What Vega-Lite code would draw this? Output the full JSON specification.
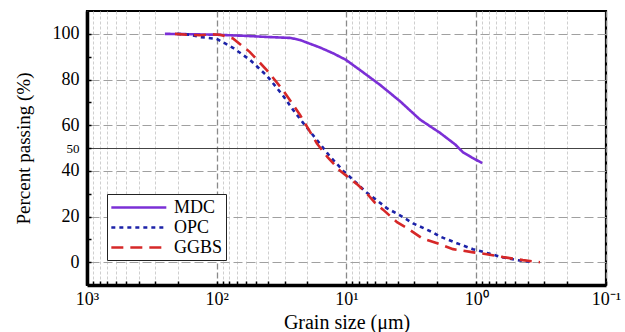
{
  "$schema": "https://vega.github.io/schema/vega-lite/v6.json",
  "width": 519,
  "height": 274,
  "autosize": {"type": "none"},
  "padding": {"left": 87, "top": 11, "right": 19, "bottom": 47},
  "background": "white",
  "config": {
    "view": {"stroke": "black", "strokeWidth": 2.2},
    "font": "Times New Roman, serif"
  },
  "data": {
    "values": [
      {"series": "MDC", "size": 251, "pct": 100},
      {"series": "MDC", "size": 150, "pct": 99.8},
      {"series": "MDC", "size": 100, "pct": 99.6},
      {"series": "MDC", "size": 60, "pct": 99.1},
      {"series": "MDC", "size": 40, "pct": 98.6},
      {"series": "MDC", "size": 27, "pct": 98.2},
      {"series": "MDC", "size": 22.8, "pct": 97.3},
      {"series": "MDC", "size": 19, "pct": 95.6},
      {"series": "MDC", "size": 16, "pct": 94},
      {"series": "MDC", "size": 12.7, "pct": 91.5},
      {"series": "MDC", "size": 10.1, "pct": 88.6},
      {"series": "MDC", "size": 7.6, "pct": 83.5},
      {"series": "MDC", "size": 5.5, "pct": 77.6},
      {"series": "MDC", "size": 3.87, "pct": 70.5},
      {"series": "MDC", "size": 2.72, "pct": 62.5},
      {"series": "MDC", "size": 1.9, "pct": 56.6},
      {"series": "MDC", "size": 1.45, "pct": 51.5},
      {"series": "MDC", "size": 1.27, "pct": 48.2},
      {"series": "MDC", "size": 1.15, "pct": 46.8},
      {"series": "MDC", "size": 1.08, "pct": 45.8},
      {"series": "MDC", "size": 0.9, "pct": 43.4},
      {"series": "OPC", "size": 202, "pct": 100},
      {"series": "OPC", "size": 160, "pct": 99.6},
      {"series": "OPC", "size": 135, "pct": 98.6},
      {"series": "OPC", "size": 100, "pct": 97.8},
      {"series": "OPC", "size": 75, "pct": 93.9},
      {"series": "OPC", "size": 55.5, "pct": 88.6},
      {"series": "OPC", "size": 41, "pct": 81.6},
      {"series": "OPC", "size": 30.9, "pct": 73},
      {"series": "OPC", "size": 25.8, "pct": 66.7},
      {"series": "OPC", "size": 21.6, "pct": 61},
      {"series": "OPC", "size": 16.9, "pct": 53.5},
      {"series": "OPC", "size": 13.5, "pct": 46.5},
      {"series": "OPC", "size": 10.6, "pct": 40},
      {"series": "OPC", "size": 8.5, "pct": 35},
      {"series": "OPC", "size": 7, "pct": 30.5},
      {"series": "OPC", "size": 5.8, "pct": 27},
      {"series": "OPC", "size": 4.9, "pct": 23.7},
      {"series": "OPC", "size": 3.87, "pct": 20.5},
      {"series": "OPC", "size": 3.07, "pct": 17},
      {"series": "OPC", "size": 2.15, "pct": 13},
      {"series": "OPC", "size": 1.9, "pct": 11.2},
      {"series": "OPC", "size": 1.41, "pct": 8.3},
      {"series": "OPC", "size": 1.06, "pct": 5.7},
      {"series": "OPC", "size": 0.8, "pct": 3.8},
      {"series": "OPC", "size": 0.656, "pct": 2.4},
      {"series": "OPC", "size": 0.485, "pct": 0.9},
      {"series": "OPC", "size": 0.366, "pct": 0},
      {"series": "GGBS", "size": 210, "pct": 100},
      {"series": "GGBS", "size": 161, "pct": 99.5},
      {"series": "GGBS", "size": 135, "pct": 99.4},
      {"series": "GGBS", "size": 110, "pct": 99.8},
      {"series": "GGBS", "size": 94.5, "pct": 99.6},
      {"series": "GGBS", "size": 75, "pct": 98},
      {"series": "GGBS", "size": 55.5, "pct": 92},
      {"series": "GGBS", "size": 41, "pct": 84},
      {"series": "GGBS", "size": 30.9, "pct": 75.4},
      {"series": "GGBS", "size": 22.8, "pct": 64.5},
      {"series": "GGBS", "size": 16.9, "pct": 52},
      {"series": "GGBS", "size": 14, "pct": 46},
      {"series": "GGBS", "size": 11.2, "pct": 40},
      {"series": "GGBS", "size": 8.15, "pct": 33.8},
      {"series": "GGBS", "size": 6.95, "pct": 30},
      {"series": "GGBS", "size": 6.03, "pct": 26},
      {"series": "GGBS", "size": 5.23, "pct": 23},
      {"series": "GGBS", "size": 4.08, "pct": 17.5},
      {"series": "GGBS", "size": 3.42, "pct": 15},
      {"series": "GGBS", "size": 2.62, "pct": 10.5},
      {"series": "GGBS", "size": 2.0, "pct": 8.3},
      {"series": "GGBS", "size": 1.51, "pct": 5.7},
      {"series": "GGBS", "size": 1.08, "pct": 4.4},
      {"series": "GGBS", "size": 0.83, "pct": 3.5},
      {"series": "GGBS", "size": 0.62, "pct": 2.2},
      {"series": "GGBS", "size": 0.437, "pct": 0.9},
      {"series": "GGBS", "size": 0.323, "pct": 0}
    ]
  },
  "mark": {"type": "line", "strokeWidth": 2.6, "clip": true},
  "encoding": {
    "x": {
      "field": "size",
      "type": "quantitative",
      "scale": {"type": "log", "domain": [0.1, 1000], "reverse": true, "nice": false},
      "axis": {
        "title": "Grain size (μm)",
        "titleFont": "Times New Roman, serif",
        "titleFontSize": 20,
        "titleFontWeight": "normal",
        "titleColor": "black",
        "titlePadding": 4,
        "values": [0.1, 0.2, 0.3, 0.4, 0.5, 0.6, 0.7, 0.8, 0.9, 1, 2, 3, 4, 5, 6, 7, 8, 9, 10, 20, 30, 40, 50, 60, 70, 80, 90, 100, 200, 300, 400, 500, 600, 700, 800, 900, 1000],
        "labelExpr": "datum.value == 1000 ? '10³' : datum.value == 100 ? '10²' : datum.value == 10 ? '10¹' : datum.value == 1 ? '10⁰' : datum.value == 0.1 ? '10⁻¹' : ''",
        "labelFont": "Times New Roman, serif",
        "labelFontSize": 18,
        "labelColor": "black",
        "labelOverlap": false,
        "labelFlush": false,
        "labelBound": false,
        "labelPadding": 9,
        "domain": true,
        "domainColor": "black",
        "domainWidth": 3.5,
        "tickColor": "black",
        "tickSize": -4,
        "tickWidth": 1.5,
        "grid": true,
        "gridColor": {"condition": {"test": "indexof([0.1, 1, 10, 100, 1000], datum.value) >= 0", "value": "#8a8a8a"}, "value": "#cfcfcf"},
        "gridDash": {"condition": {"test": "indexof([0.1, 1, 10, 100, 1000], datum.value) >= 0", "value": [6, 3]}, "value": [3, 2]},
        "gridWidth": {"condition": {"test": "indexof([0.1, 1, 10, 100, 1000], datum.value) >= 0", "value": 1.3}, "value": 1}
      }
    },
    "y": {
      "field": "pct",
      "type": "quantitative",
      "scale": {"domain": [-10, 110], "nice": false, "zero": false},
      "axis": {
        "title": "Percent passing (%)",
        "titleFont": "Times New Roman, serif",
        "titleFontSize": 19,
        "titleFontWeight": "normal",
        "titleColor": "black",
        "titlePadding": 19,
        "values": [0, 10, 20, 30, 40, 50, 60, 70, 80, 90, 100],
        "labelExpr": "(datum.value % 20 == 0 || datum.value == 50) ? datum.label : ''",
        "labelFont": "Times New Roman, serif",
        "labelFontSize": {"condition": {"test": "datum.value == 50", "value": 13}, "value": 18},
        "labelColor": "black",
        "labelOverlap": false,
        "labelFlush": false,
        "labelBound": false,
        "labelPadding": 12,
        "domain": true,
        "domainColor": "black",
        "domainWidth": 3.5,
        "tickColor": "black",
        "tickSize": -4,
        "tickWidth": 1.5,
        "grid": true,
        "gridOpacity": {"condition": {"test": "datum.value % 20 == 0 || datum.value == 50", "value": 1}, "value": 0},
        "gridColor": {"condition": {"test": "datum.value == 50", "value": "#444444"}, "value": "#a0a0a0"},
        "gridDash": {"condition": {"test": "datum.value == 50", "value": []}, "value": [9, 4]},
        "gridWidth": 1.2
      }
    },
    "color": {
      "field": "series",
      "type": "nominal",
      "scale": {"domain": ["MDC", "OPC", "GGBS"], "range": ["#7b2fd6", "#1c22a8", "#d62828"]},
      "legend": {
        "title": null,
        "orient": "none",
        "legendX": 20,
        "legendY": 183,
        "fillColor": "white",
        "strokeColor": "#222222",
        "padding": 3,
        "symbolType": "M-1,0L5,0",
        "symbolSize": 336,
        "symbolStrokeWidth": 2.6,
        "labelFont": "Times New Roman, serif",
        "labelFontSize": 18,
        "labelColor": "black",
        "labelOffset": 43,
        "rowPadding": 0
      }
    },
    "strokeDash": {
      "field": "series",
      "type": "nominal",
      "scale": {"domain": ["MDC", "OPC", "GGBS"], "range": [[1, 0], [4, 4], [12, 7]]},
      "legend": {
        "title": null,
        "orient": "none",
        "legendX": 20,
        "legendY": 183
      }
    }
  }
}
